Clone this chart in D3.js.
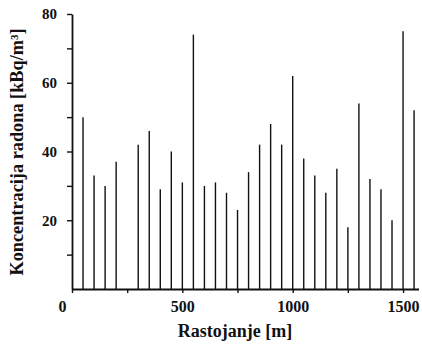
<!DOCTYPE html>
<html>
<head>
<meta charset="utf-8">
<script src="https://cdn.jsdelivr.net/npm/d3@7"></script>
<style>
  html, body { margin: 0; padding: 0; background: #fff; }
  svg { display: block; }
</style>
</head>
<body>
<div id="chart"></div>
<script>
// distance along the profile [m]
const distances = [50, 100, 150, 200, 300, 350, 400, 450, 500, 550, 600, 650, 700, 750,
  800, 850, 900, 950, 1000, 1050, 1100, 1150, 1200, 1250, 1300, 1350, 1400, 1450, 1500, 1550];
// radon concentration [kBq/m3]
const radon = [50, 33, 30, 37, 42, 46, 29, 40, 31, 74, 30, 31, 28, 23,
  34, 42, 48, 42, 62, 38, 33, 28, 35, 18, 54, 32, 29, 20, 75, 52];
const xTicks = [0, 250, 500, 750, 1000, 1250, 1500];
const xLabels = [0, 500, 1000, 1500];
const yTicks = [10, 20, 30, 40, 50, 60, 70, 80];
const yLabels = [20, 40, 60, 80];

const width = 422;
const height = 344;
const margin = { t: 14, r: 3.5, l: 72, b: 55 };
const font = "'Liberation Serif', 'Times New Roman', serif";
const ink = '#111';

const svg = d3.select('#chart').append('svg')
  .attr('width', width)
  .attr('height', height)
  .attr('viewBox', [0, 0, width, height]);

const x = d3.scaleLinear()
  .domain([0, 1570])
  .range([margin.l, width - margin.r]);

const y = d3.scaleLinear()
  .domain([0, 80])
  .range([height - margin.b, margin.t]);

// bars (thin vertical lines)
svg.append('g')
  .selectAll('line')
  .data(distances)
  .join('line')
  .attr('x1', d => x(d))
  .attr('x2', d => x(d))
  .attr('y1', y(0))
  .attr('y2', (d, i) => y(radon[i]))
  .attr('stroke', ink)
  .attr('stroke-width', 1.4);

// x axis
svg.append('g')
  .attr('transform', `translate(0,${y(0)})`)
  .call(d3.axisBottom(x)
    .tickValues(xTicks)
    .tickSize(4)
    .tickSizeOuter(0)
    .tickFormat(d => xLabels.includes(d) ? d : ''))
  .call(g => g.select('.domain').attr('stroke', ink).attr('stroke-width', 1.8))
  .call(g => g.selectAll('.tick line').attr('stroke', ink).attr('stroke-width', 1.4))
  .call(g => g.selectAll('.tick text')
    .attr('font-family', font)
    .attr('font-weight', 'bold')
    .attr('font-size', 16)
    .attr('fill', ink)
    .attr('y', 12)
    .attr('dx', d => d === 0 ? -10 : 0));

// y axis
svg.append('g')
  .attr('transform', `translate(${x(0)},0)`)
  .call(d3.axisLeft(y)
    .tickValues(yTicks)
    .tickSize(5)
    .tickSizeOuter(0)
    .tickFormat(d => yLabels.includes(d) ? d : ''))
  .call(g => g.select('.domain').attr('stroke', ink).attr('stroke-width', 1.8))
  .call(g => g.selectAll('.tick line').attr('stroke', ink).attr('stroke-width', 1.4))
  .call(g => g.selectAll('.tick text')
    .attr('font-family', font)
    .attr('font-weight', 'bold')
    .attr('font-size', 15)
    .attr('fill', ink)
    .attr('x', -15));

// axis titles
svg.append('text')
  .attr('x', 235)
  .attr('y', 337)
  .attr('text-anchor', 'middle')
  .attr('font-family', font)
  .attr('font-weight', 'bold')
  .attr('font-size', 18)
  .attr('fill', ink)
  .text('Rastojanje [m]');

svg.append('text')
  .attr('transform', 'translate(23,152) rotate(-90)')
  .attr('text-anchor', 'middle')
  .attr('font-family', font)
  .attr('font-weight', 'bold')
  .attr('font-size', 18.3)
  .attr('fill', ink)
  .text('Koncentracija radona [kBq/m³]');
</script>
</body>
</html>
